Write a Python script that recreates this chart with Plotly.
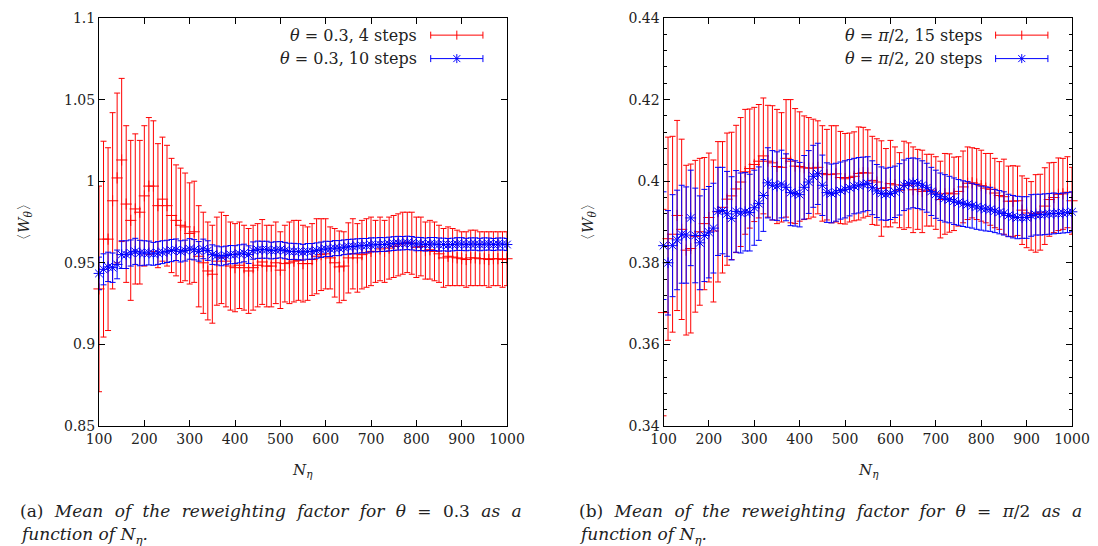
import plotly.graph_objects as go

# ---------------- data ----------------
N = list(range(100, 1001, 10))

# left panel: theta = 0.3, 4 steps (red)
red4_mean = [0.934, 0.9645, 0.9645, 0.988, 1.002, 1.013, 0.986, 0.976, 0.983, 0.981, 0.991, 0.997, 0.997, 0.985, 0.989, 0.985, 0.979, 0.976, 0.973, 0.972, 0.968, 0.969,
             0.954, 0.950, 0.945, 0.943, 0.951, 0.953, 0.951, 0.948, 0.947, 0.9485, 0.947, 0.945, 0.947, 0.9485, 0.9505, 0.948, 0.948, 0.950, 0.9455, 0.9495, 0.950, 0.951,
             0.9515, 0.9495, 0.9495, 0.952, 0.954, 0.955, 0.9555, 0.953, 0.950, 0.9475, 0.948, 0.953, 0.9555, 0.953, 0.955, 0.956, 0.957, 0.957, 0.9585, 0.957, 0.959, 0.960,
             0.961, 0.962, 0.9625, 0.962, 0.9595, 0.960, 0.9575, 0.958, 0.957, 0.9555, 0.953, 0.954, 0.9535, 0.953, 0.9525, 0.952, 0.953, 0.953, 0.9525, 0.9525, 0.952,
             0.9525, 0.9525, 0.952, 0.9525]
red4_err = [0.063, 0.060, 0.056, 0.054, 0.052, 0.050, 0.048, 0.049, 0.046, 0.044, 0.043, 0.042, 0.040, 0.038, 0.038, 0.037, 0.035, 0.034, 0.035, 0.033, 0.031, 0.031,
            0.031, 0.031, 0.030, 0.030, 0.027, 0.028, 0.028, 0.027, 0.027, 0.0265, 0.026, 0.026, 0.026, 0.0255, 0.026, 0.025, 0.025, 0.025, 0.0235, 0.0235, 0.025, 0.025,
            0.0245, 0.0235, 0.0225, 0.022, 0.023, 0.022, 0.0215, 0.019, 0.021, 0.022, 0.021, 0.0215, 0.0215, 0.021, 0.021, 0.021, 0.021, 0.019, 0.0195, 0.019, 0.019, 0.019,
            0.019, 0.019, 0.0185, 0.019, 0.0185, 0.018, 0.0175, 0.018, 0.018, 0.0175, 0.018, 0.018, 0.0175, 0.017, 0.0165, 0.017, 0.017, 0.017, 0.0165, 0.0165, 0.017,
            0.0165, 0.0165, 0.017, 0.0165]

# left panel: theta = 0.3, 10 steps (blue)
blue10_mean = [0.9435, 0.946, 0.9475, 0.947, 0.949, 0.955, 0.955, 0.956, 0.957, 0.956, 0.956, 0.956, 0.9555, 0.956, 0.9565, 0.957, 0.9575, 0.958, 0.957, 0.9575,
               0.9585, 0.958, 0.957, 0.9585, 0.9575, 0.955, 0.9545, 0.954, 0.9545, 0.955, 0.955, 0.9555, 0.956, 0.955, 0.9575, 0.958, 0.958, 0.958, 0.9575, 0.9578,
               0.958, 0.9575, 0.957, 0.957, 0.9568, 0.9565, 0.957, 0.957, 0.9575, 0.958, 0.9585, 0.9585, 0.959, 0.959, 0.9595, 0.9598, 0.960, 0.9603, 0.9605, 0.9605,
               0.961, 0.961, 0.9612, 0.9612, 0.9615, 0.9618, 0.962, 0.962, 0.9622, 0.962, 0.9615, 0.9615, 0.9612, 0.9615, 0.9615, 0.9612, 0.9612, 0.961, 0.9612, 0.9615,
               0.9615, 0.9612, 0.9615, 0.9615, 0.9612, 0.9615, 0.9615, 0.9612, 0.9615, 0.9615, 0.9612]
blue10_err = [0.010, 0.0095, 0.009, 0.009, 0.0088, 0.0085, 0.0085, 0.008, 0.008, 0.0078, 0.0075, 0.0073, 0.007, 0.007, 0.007, 0.0068, 0.0068, 0.0066, 0.0065, 0.0064,
              0.0063, 0.0062, 0.006, 0.006, 0.006, 0.006, 0.0058, 0.0058, 0.0057, 0.0056, 0.0055, 0.0055, 0.0054, 0.0054, 0.0053, 0.0053, 0.0052, 0.0052, 0.0051, 0.0051,
              0.005, 0.005, 0.005, 0.0049, 0.0049, 0.0048, 0.0048, 0.0048, 0.0047, 0.0047, 0.0047, 0.0046, 0.0046, 0.0046, 0.0045, 0.0045, 0.0045, 0.0044, 0.0044, 0.0044,
              0.0043, 0.0043, 0.0043, 0.0042, 0.0042, 0.0042, 0.0042, 0.0041, 0.0041, 0.0041, 0.0041, 0.004, 0.004, 0.004, 0.004, 0.004, 0.0039, 0.0039, 0.0039, 0.0039,
              0.0039, 0.0038, 0.0038, 0.0038, 0.0038, 0.0038, 0.0037, 0.0037, 0.0037, 0.0037, 0.0037]

# right panel: theta = pi/2, 15 steps (red)
red15_mean = [0.3678, 0.3859, 0.3870, 0.3916, 0.3882, 0.3831, 0.3835, 0.3865, 0.3876, 0.3896, 0.3911, 0.3878, 0.3925, 0.3936, 0.3956, 0.3964, 0.3981, 0.3998,
              0.4023, 0.4031, 0.4041, 0.4049, 0.4062, 0.4049, 0.4045, 0.4036, 0.4034, 0.4056, 0.4049, 0.4037, 0.4036, 0.4033, 0.4032, 0.4032, 0.4034, 0.4019, 0.4016,
              0.4017, 0.4018, 0.4009, 0.4006, 0.4009, 0.4012, 0.4019, 0.4021, 0.4020, 0.4002, 0.3998, 0.3982, 0.3984, 0.3994, 0.3991, 0.3978, 0.3990, 0.3990, 0.3979,
              0.3980, 0.3975, 0.3978, 0.3978, 0.3971, 0.3955, 0.3969, 0.3971, 0.3969, 0.3975, 0.3986, 0.3995, 0.3996, 0.3993, 0.3989, 0.3983, 0.3980, 0.3971, 0.3965,
              0.3962, 0.3951, 0.3951, 0.3952, 0.3929, 0.3922, 0.3915, 0.3921, 0.3924, 0.3939, 0.3955, 0.3960, 0.3968, 0.3969, 0.3973, 0.3952]
red15_err = [0.0253, 0.0249, 0.0240, 0.0233, 0.0221, 0.0208, 0.0207, 0.0186, 0.0180, 0.0162, 0.0158, 0.0174, 0.0172, 0.0161, 0.0162, 0.0156, 0.0156, 0.0158,
             0.0153, 0.0146, 0.0140, 0.0139, 0.0142, 0.0137, 0.0140, 0.0140, 0.0134, 0.0144, 0.0151, 0.0141, 0.0134, 0.0127, 0.0124, 0.0120, 0.0114, 0.0117, 0.0111,
             0.0119, 0.0118, 0.0113, 0.0111, 0.0109, 0.0109, 0.0114, 0.0111, 0.0106, 0.0108, 0.0106, 0.0117, 0.0096, 0.0106, 0.0093, 0.0092, 0.0108, 0.0104, 0.0105,
             0.0098, 0.0101, 0.0088, 0.0088, 0.0089, 0.0094, 0.0099, 0.0096, 0.0090, 0.0085, 0.0088, 0.0089, 0.0086, 0.0087, 0.0087, 0.0085, 0.0088, 0.0085, 0.0083,
             0.0092, 0.0086, 0.0087, 0.0085, 0.0084, 0.0085, 0.0084, 0.0095, 0.0093, 0.0094, 0.0090, 0.0086, 0.0089, 0.0087, 0.0087, 0.0082]

# right panel: theta = pi/2, 20 steps (blue)
blue20_mean = [0.3842, 0.3800, 0.3842, 0.3856, 0.3870, 0.3868, 0.3910, 0.3867, 0.3849, 0.3867, 0.3875, 0.3885, 0.3926, 0.3928, 0.3920, 0.3909, 0.3926, 0.3922,
               0.3925, 0.3923, 0.3935, 0.3945, 0.3965, 0.3996, 0.3990, 0.3988, 0.3993, 0.3985, 0.3972, 0.3970, 0.3967, 0.3985, 0.3998, 0.4012, 0.4018, 0.3990, 0.3972,
               0.3970, 0.3973, 0.3977, 0.3980, 0.3984, 0.3988, 0.3990, 0.3992, 0.3994, 0.3984, 0.3976, 0.3970, 0.3968, 0.3970, 0.3974, 0.3980, 0.3990, 0.3994, 0.3996,
               0.3994, 0.3990, 0.3984, 0.3975, 0.3968, 0.3962, 0.3958, 0.3955, 0.3951, 0.3948, 0.3945, 0.3943, 0.3940, 0.3937, 0.3934, 0.3932, 0.3931, 0.3927, 0.3924,
               0.3921, 0.3916, 0.3913, 0.3911, 0.3911, 0.3911, 0.3916, 0.3918, 0.3918, 0.3919, 0.3920, 0.3921, 0.3921, 0.3922, 0.3923, 0.3925]
blue20_err = [0.0132, 0.0128, 0.0125, 0.0122, 0.0120, 0.0118, 0.0117, 0.0116, 0.0115, 0.0113, 0.0112, 0.0110, 0.0108, 0.0106, 0.0104, 0.0102, 0.0100, 0.0098,
              0.0096, 0.0094, 0.0092, 0.0090, 0.0088, 0.0086, 0.0085, 0.0084, 0.0083, 0.0082, 0.0081, 0.0080, 0.0079, 0.0078, 0.0077, 0.0076, 0.0075, 0.0074, 0.0073,
              0.0072, 0.0071, 0.0070, 0.0070, 0.0069, 0.0068, 0.0068, 0.0067, 0.0066, 0.0066, 0.0065, 0.0065, 0.0064, 0.0064, 0.0063, 0.0063, 0.0062, 0.0062, 0.0061,
              0.0061, 0.0060, 0.0060, 0.0059, 0.0059, 0.0058, 0.0058, 0.0057, 0.0057, 0.0056, 0.0056, 0.0056, 0.0055, 0.0055, 0.0054, 0.0054, 0.0054, 0.0053, 0.0053,
              0.0053, 0.0052, 0.0052, 0.0052, 0.0051, 0.0051, 0.0051, 0.0050, 0.0050, 0.0050, 0.0050, 0.0050, 0.0049, 0.0049, 0.0049, 0.0049]

x_ticks = [100, 200, 300, 400, 500, 600, 700, 800, 900, 1000]
left_yticks = [0.85, 0.9, 0.95, 1.0, 1.05, 1.1]
left_yticktext = ["0.85", "0.9", "0.95", "1", "1.05", "1.1"]
right_yticks = [0.34, 0.36, 0.38, 0.40, 0.42, 0.44]
right_yticktext = ["0.34", "0.36", "0.38", "0.4", "0.42", "0.44"]

legend_left = ["<i>θ</i> = 0.3, 4 steps", "<i>θ</i> = 0.3, 10 steps"]
legend_right = ["<i>θ</i> = <i>π</i>/2, 15 steps", "<i>θ</i> = <i>π</i>/2, 20 steps"]

# ---------------- style ----------------
RED = "#ff0000"
BLUE = "#0000ff"
FONT = "DejaVu Serif, serif"
W, H = 1098, 546

def px_x(p):
    return p / W

def px_y(p):
    return 1 - p / H

fig = go.Figure()

def add_series(x, y, e, color, symbol, size, xa, ya):
    fig.add_trace(go.Scatter(
        x=x, y=y, mode="markers", xaxis=xa, yaxis=ya, cliponaxis=False,
        marker=dict(symbol=symbol, size=size, color=color, line=dict(color=color, width=1)),
        error_y=dict(type="data", array=e, visible=True, color=color, thickness=1, width=3),
        showlegend=False,
    ))

add_series(N, red4_mean, red4_err, RED, "cross-thin-open", 8, "x", "y")
add_series(N, blue10_mean, blue10_err, BLUE, "asterisk-open", 9, "x", "y")
add_series(N, red15_mean, red15_err, RED, "cross-thin-open", 8, "x2", "y2")
add_series(N, blue20_mean, blue20_err, BLUE, "asterisk-open", 9, "x2", "y2")

tickfont = dict(family=FONT, size=14, color="#222")
common_x = dict(range=[100, 1000], tickvals=x_ticks, ticks="inside", ticklen=6, tickcolor="black",
                showline=True, linecolor="black", linewidth=1, mirror="ticks", showgrid=False,
                zeroline=False, tickfont=tickfont, automargin=False)
common_y = dict(ticks="inside", ticklen=6, tickcolor="black", showline=True, linecolor="black",
                linewidth=1, mirror="ticks", showgrid=False, zeroline=False, tickfont=tickfont,
                automargin=False)

L_dom = [px_x(99), px_x(507)]
R_dom = [px_x(663.5), px_x(1072)]
Y_dom = [px_y(426), px_y(18)]

fig.update_layout(
    width=W, height=H, autosize=False, margin=dict(l=0, r=0, t=0, b=0, pad=0),
    paper_bgcolor="white", plot_bgcolor="white",
    xaxis=dict(domain=L_dom, anchor="y", **common_x),
    yaxis=dict(domain=Y_dom, anchor="x", range=[0.85, 1.1], tickvals=left_yticks,
               ticktext=left_yticktext, **common_y),
    xaxis2=dict(domain=R_dom, anchor="y2", **common_x),
    yaxis2=dict(domain=Y_dom, anchor="x2", range=[0.34, 0.44], tickvals=right_yticks,
                ticktext=right_yticktext,
                minor=dict(dtick=0.004, ticks="inside", ticklen=3, tickcolor="black"),
                **common_y),
)

annotations = []
shapes = []

def legend_entry(xref, yref, text, ydom, color, kind):
    annotations.append(dict(xref=xref, yref=yref, x=0.785, y=ydom, text=text, showarrow=False,
                            xanchor="right", yanchor="middle",
                            font=dict(family=FONT, size=16, color="#222")))
    x0, x1, xm = 0.813, 0.941, 0.877
    dy = 3.5 / 408
    line = dict(color=color, width=1)
    shapes.append(dict(type="line", xref=xref, yref=yref, x0=x0, x1=x1, y0=ydom, y1=ydom, line=line))
    shapes.append(dict(type="line", xref=xref, yref=yref, x0=x0, x1=x0, y0=ydom - dy, y1=ydom + dy, line=line))
    shapes.append(dict(type="line", xref=xref, yref=yref, x0=x1, x1=x1, y0=ydom - dy, y1=ydom + dy, line=line))
    my = 4.5 / 408
    shapes.append(dict(type="line", xref=xref, yref=yref, x0=xm, x1=xm, y0=ydom - my, y1=ydom + my, line=line))
    if kind == "star":
        d = 3.5 / 408
        shapes.append(dict(type="line", xref=xref, yref=yref, x0=xm - d, x1=xm + d, y0=ydom - d, y1=ydom + d, line=line))
        shapes.append(dict(type="line", xref=xref, yref=yref, x0=xm - d, x1=xm + d, y0=ydom + d, y1=ydom - d, line=line))

legend_entry("x domain", "y domain", legend_left[0], 0.958, RED, "plus")
legend_entry("x domain", "y domain", legend_left[1], 0.9005, BLUE, "star")
legend_entry("x2 domain", "y2 domain", legend_right[0], 0.958, RED, "plus")
legend_entry("x2 domain", "y2 domain", legend_right[1], 0.9005, BLUE, "star")

labfont = dict(family=FONT, size=15, color="#222")
for xc in (24, 588):
    annotations.append(dict(xref="paper", yref="paper", x=px_x(xc), y=px_y(222),
                            text="〈<i>W<sub>θ</sub></i>〉", textangle=-90, showarrow=False,
                            xanchor="center", yanchor="middle", font=labfont))
for xc in (303, 868):
    annotations.append(dict(xref="paper", yref="paper", x=px_x(xc), y=px_y(470),
                            text="<i>N<sub>η</sub></i>", showarrow=False,
                            xanchor="center", yanchor="middle", font=labfont))

SP = " \u2005\u200a"
capfont = dict(family=FONT, size=17, color="#222")
captions = [
    (18, "(a)" + SP + "<i>" + SP.join(["Mean", "of", "the", "reweighting", "factor", "for", "θ"]) + "</i>" + SP + "=" + SP + "0.3" + SP + "<i>as" + SP + "a</i>",
     "<i>function of N<sub>η</sub>.</i>"),
    (577, "(b)" + SP + "<i>" + SP.join(["Mean", "of", "the", "reweighting", "factor", "for", "θ"]) + "</i>" + SP + "=" + SP + "<i>π</i>/2" + SP + "<i>as" + SP + "a</i>",
     "<i>function of N<sub>η</sub>.</i>"),
]
for xc, l1, l2 in captions:
    annotations.append(dict(xref="paper", yref="paper", x=px_x(xc), y=px_y(511), text=l1,
                            showarrow=False, xanchor="left", yanchor="middle", font=capfont))
    annotations.append(dict(xref="paper", yref="paper", x=px_x(xc), y=px_y(535), text=l2,
                            showarrow=False, xanchor="left", yanchor="middle", font=capfont))

fig.update_layout(annotations=annotations, shapes=shapes)
fig.write_html("out.html", config={"responsive": False, "displayModeBar": False},
               post_script="document.body.style.margin='0';document.body.style.overflow='hidden';")
